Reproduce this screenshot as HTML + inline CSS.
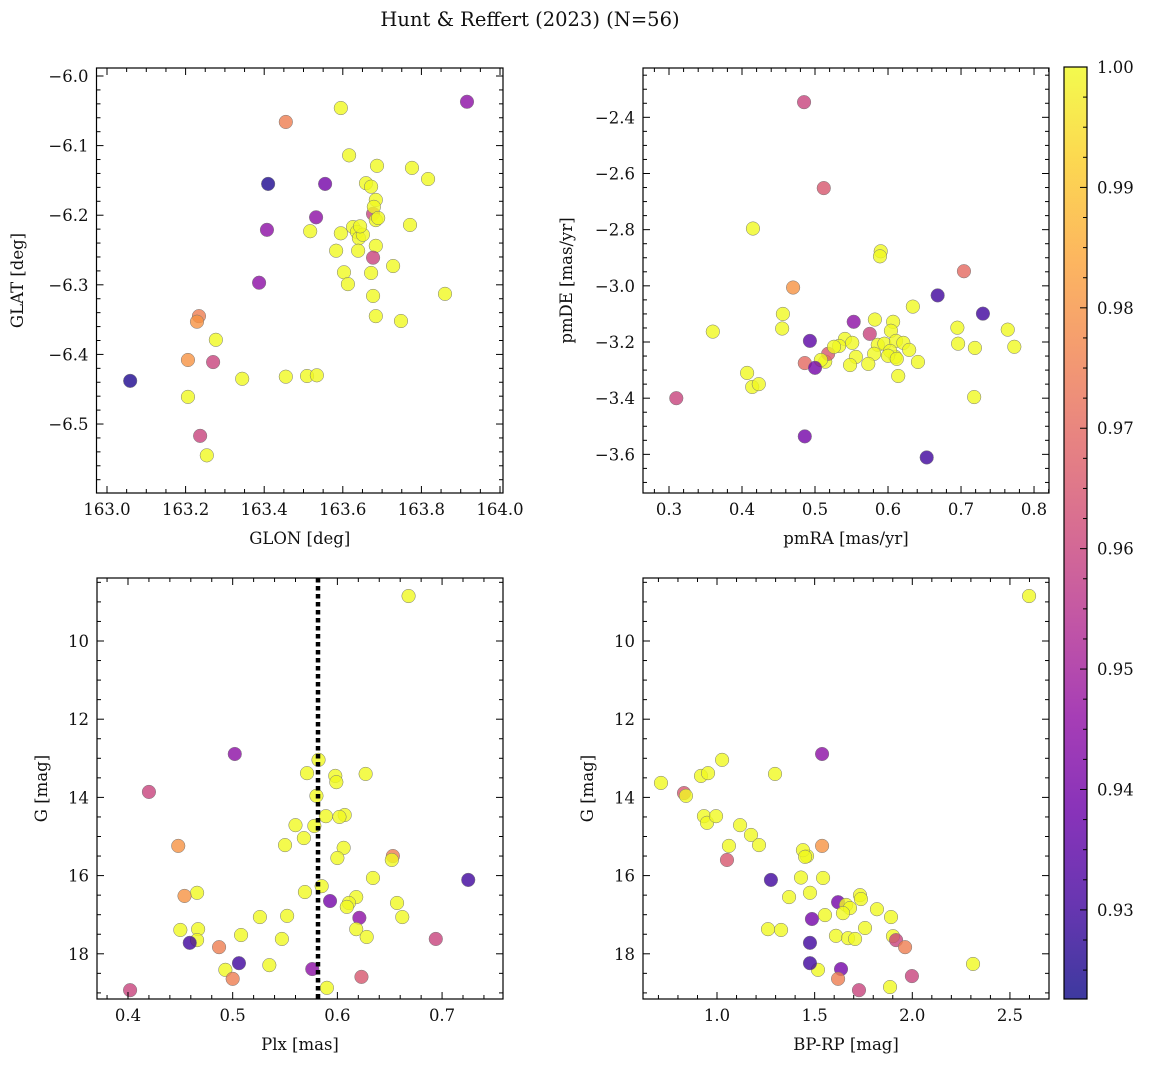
<!DOCTYPE html>
<html><head><meta charset="utf-8">
<style>
body{margin:0;background:#fff;}
svg{display:block;}
svg text{font-family:"DejaVu Serif","Liberation Serif",serif;}
</style></head>
<body>
<svg id="fig" width="1149" height="1067" viewBox="0 0 1149 1067">
<text x="530" y="26" text-anchor="middle" font-size="19.5" fill="#111" font-family="DejaVu Serif, Liberation Serif, serif">Hunt &amp; Reffert (2023) (N=56)</text>
</svg>
<script>
// ---- Panel 1: GLON vs GLAT ----
const glon1 = [163.455,163.595,163.916,163.616,163.410,163.555,163.659,163.672,163.687,163.776,163.817,163.532,163.677,163.684,163.684,163.679,163.626,163.636,163.641,163.651,163.595,163.517,163.407,163.583,163.684,163.639,163.771,163.603,163.613,163.672,163.677,163.728,163.387,163.677,163.684,163.748,163.860,163.234,163.229,163.277,163.206,163.270,163.059,163.344,163.455,163.509,163.534,163.206,163.237,163.254,163.644,163.690];
const glat1 = [-6.066,-6.046,-6.037,-6.114,-6.155,-6.155,-6.154,-6.159,-6.129,-6.132,-6.148,-6.203,-6.198,-6.178,-6.207,-6.188,-6.217,-6.224,-6.233,-6.228,-6.226,-6.223,-6.221,-6.251,-6.244,-6.251,-6.214,-6.282,-6.299,-6.283,-6.261,-6.273,-6.297,-6.316,-6.345,-6.352,-6.313,-6.345,-6.353,-6.379,-6.408,-6.411,-6.438,-6.435,-6.432,-6.431,-6.430,-6.461,-6.517,-6.545,-6.216,-6.204];
const prob1 = [0.975,1,0.945,1,0.925,0.94,1,1,1,1,1,0.945,0.96,1,1,1,1,1,1,1,1,1,0.945,1,1,1,1,1,1,1,0.96,1,0.945,1,1,1,1,0.975,0.98,1,0.98,0.96,0.925,1,1,1,1,1,0.96,1,1,1];
// ---- Panel 2: pmRA vs pmDE ----
const pmra2 = [0.485,0.512,0.415,0.590,0.589,0.470,0.704,0.668,0.730,0.634,0.456,0.360,0.553,0.582,0.607,0.604,0.575,0.541,0.551,0.493,0.514,0.533,0.586,0.455,0.595,0.611,0.621,0.629,0.610,0.603,0.581,0.556,0.518,0.526,0.486,0.508,0.500,0.548,0.573,0.600,0.612,0.641,0.695,0.696,0.719,0.764,0.773,0.614,0.407,0.414,0.423,0.310,0.718,0.486,0.653];
const pmde2 = [-2.346,-2.652,-2.796,-2.877,-2.895,-3.006,-2.948,-3.034,-3.099,-3.074,-3.100,-3.163,-3.128,-3.120,-3.128,-3.160,-3.171,-3.189,-3.203,-3.196,-3.270,-3.214,-3.210,-3.152,-3.206,-3.196,-3.203,-3.228,-3.253,-3.232,-3.242,-3.253,-3.242,-3.217,-3.275,-3.264,-3.292,-3.282,-3.278,-3.249,-3.260,-3.271,-3.149,-3.206,-3.221,-3.156,-3.217,-3.321,-3.310,-3.360,-3.350,-3.400,-3.396,-3.536,-3.611];
const prob2 = [0.96,0.965,1,1,1,0.98,0.97,0.93,0.93,1,1,1,0.945,1,1,1,0.96,1,1,0.935,1,1,1,1,1,1,1,1,1,1,1,1,0.965,1,0.97,1,0.94,1,1,1,1,1,1,1,1,1,1,1,1,1,1,0.96,1,0.94,0.93];
// ---- Panel 3: Plx vs G ----
const plx3 = [0.668,0.502,0.582,0.571,0.598,0.599,0.627,0.420,0.580,0.589,0.607,0.602,0.560,0.578,0.448,0.568,0.550,0.606,0.653,0.600,0.652,0.725,0.634,0.585,0.569,0.466,0.454,0.618,0.593,0.611,0.609,0.657,0.552,0.526,0.662,0.621,0.450,0.467,0.618,0.508,0.628,0.466,0.547,0.694,0.459,0.487,0.506,0.535,0.493,0.576,0.500,0.623,0.590,0.402];
const g3 = [8.85,12.89,13.04,13.38,13.45,13.61,13.40,13.86,13.96,14.48,14.45,14.50,14.71,14.73,15.24,15.04,15.22,15.29,15.50,15.55,15.60,16.11,16.06,16.27,16.42,16.44,16.52,16.55,16.65,16.70,16.80,16.70,17.03,17.06,17.06,17.08,17.39,17.37,17.37,17.52,17.57,17.65,17.62,17.62,17.72,17.83,18.24,18.29,18.41,18.39,18.64,18.59,18.87,18.93];
const prob3 = [1,0.945,1,1,1,1,1,0.96,1,1,1,1,1,1,0.98,1,1,1,0.975,1,1,0.93,1,1,1,1,0.98,1,0.94,1,1,1,1,1,1,0.945,1,1,1,1,1,1,1,0.96,0.93,0.975,0.93,1,1,0.945,0.975,0.965,1,0.96];
const plxLine = 0.5815;
// ---- Panel 4: BP-RP vs G ----
const bprp4 = [2.598,0.713,0.831,0.841,0.918,0.954,1.026,1.297,1.538,0.933,0.949,0.995,1.118,1.174,1.215,1.061,1.461,1.440,1.451,1.538,1.051,1.543,1.430,1.276,1.476,1.369,1.620,1.661,1.681,1.732,1.737,1.645,1.553,1.486,1.819,1.891,1.758,1.261,1.328,1.609,1.671,1.707,1.901,1.917,1.963,1.476,1.517,1.476,2.311,1.635,1.998,1.620,1.727,1.886];
const g4 = [8.85,13.63,13.89,13.96,13.45,13.38,13.04,13.40,12.89,14.48,14.65,14.48,14.71,14.96,15.22,15.24,15.50,15.35,15.52,15.24,15.60,16.06,16.05,16.11,16.44,16.55,16.68,16.75,16.83,16.50,16.60,16.96,17.01,17.11,16.86,17.06,17.34,17.37,17.39,17.54,17.60,17.62,17.55,17.65,17.83,17.72,18.41,18.24,18.26,18.39,18.57,18.64,18.93,18.85];
const prob4 = [1,1,0.965,1,1,1,1,1,0.945,1,1,1,1,1,1,1,1,1,1,0.98,0.965,1,1,0.93,1,1,0.94,1,1,1,1,1,1,0.94,1,1,1,1,1,1,1,1,1,0.96,0.975,0.93,1,0.93,1,0.94,0.96,0.975,0.96,1];
// ---- tick labels ----
const ticksGlon = [163.0,163.2,163.4,163.6,163.8,164.0];
const ticksGlat = [-6.0,-6.1,-6.2,-6.3,-6.4,-6.5];
const ticksPmra = [0.3,0.4,0.5,0.6,0.7,0.8];
const ticksPmde = [-2.4,-2.6,-2.8,-3.0,-3.2,-3.4,-3.6];
const ticksPlx = [0.4,0.5,0.6,0.7];
const ticksG = [10,12,14,16,18];
const ticksBprp = [1.0,1.5,2.0,2.5];
const ticksCbar = [0.93,0.94,0.95,0.96,0.97,0.98,0.99,1.00];
const cmin = 0.9226, cmax = 1.0;

const NS = "http://www.w3.org/2000/svg";
const FONT = '"DejaVu Serif", "Liberation Serif", serif';
const svg = document.getElementById('fig');
function mk(tag, attrs, parent){ const e=document.createElementNS(NS,tag); for(const k in attrs) e.setAttribute(k,attrs[k]); if(tag==='text') e.setAttribute('font-family',FONT); (parent||svg).appendChild(e); return e; }
const stops = ["#0d0887","#41049d","#6a00a8","#8f0da4","#b12a90","#cc4778","#e16462","#f2844b","#fca636","#fcce25","#f0f921"];
function hex(h){return [parseInt(h.slice(1,3),16),parseInt(h.slice(3,5),16),parseInt(h.slice(5,7),16)];}
function plasma(t){ t=Math.max(0,Math.min(1,t)); const f=t*10, i=Math.min(9,Math.floor(f)), r=f-i; const a=hex(stops[i]), b=hex(stops[i+1]); return `rgb(${a.map((v,k)=>Math.round(v+(b[k]-v)*r)).join(',')})`; }
function fmt(v,d){ const s=v.toFixed(d); return s.startsWith('-')?'\u2212'+s.slice(1):s; }

function panel(name, box, xr, yr, xt, yt, xd, yd, xminor, yminor, xs, ys, ps, xlabel, ylabel, ylabX){
  const g = mk('g',{});
  
  
  const X = v => box.l + (v-xr[0])/(xr[1]-xr[0])*(box.r-box.l);
  const Y = v => box.b - (v-yr[0])/(yr[1]-yr[0])*(box.b-box.t);
  const pts = mk('g',{},g);
  
  
  for(let i=0;i<xs.length;i++){
    const c = mk('circle',{cx:X(xs[i]),cy:Y(ys[i]),r:6.8,fill:plasma((ps[i]-cmin)/(cmax-cmin)),'fill-opacity':0.8,stroke:'#777','stroke-width':0.5},pts);
    
    
  }
  const tk = mk('g',{stroke:'#000','stroke-width':1},g);
  const x0=Math.ceil(xr[0]/xminor), x1=Math.floor(xr[1]/xminor);
  for(let k=x0;k<=x1;k++){ const v=k*xminor, px=X(v); const maj = xt.some(t=>Math.abs(t-v)<xminor/4); const L=maj?7:4;
    mk('line',{x1:px,x2:px,y1:box.b,y2:box.b-L},tk); mk('line',{x1:px,x2:px,y1:box.t,y2:box.t+L},tk); }
  const yl=Math.min(yr[0],yr[1]), yh=Math.max(yr[0],yr[1]);
  const y0=Math.ceil(yl/yminor), y1=Math.floor(yh/yminor);
  for(let k=y0;k<=y1;k++){ const v=k*yminor, py=Y(v); const maj = yt.some(t=>Math.abs(t-v)<yminor/4); const L=maj?7:4;
    mk('line',{y1:py,y2:py,x1:box.l,x2:box.l+L},tk); mk('line',{y1:py,y2:py,x1:box.r,x2:box.r-L},tk); }
  mk('rect',{x:box.l,y:box.t,width:box.r-box.l,height:box.b-box.t,fill:'none',stroke:'#000','stroke-width':1.2},g);
  xt.forEach(t=>{ const e=mk('text',{x:X(t),y:box.b+22,'text-anchor':'middle','font-size':16.5,fill:'#111'},g); e.textContent=fmt(t,xd);
      });
  yt.forEach(t=>{ const e=mk('text',{x:box.l-8,y:Y(t)+6,'text-anchor':'end','font-size':16.5,fill:'#111'},g); e.textContent=fmt(t,yd);
      });
  const xl=mk('text',{x:(box.l+box.r)/2,y:box.b+51,'text-anchor':'middle','font-size':16.5,fill:'#111'},g); xl.textContent=xlabel;
   
  const cy=(box.t+box.b)/2;
  const ylb=mk('text',{x:ylabX,y:cy,'text-anchor':'middle','font-size':16.5,fill:'#111',transform:`rotate(-90 ${ylabX} ${cy})`},g); ylb.textContent=ylabel;
   
  return {X,Y,g};
}

panel('glon-glat-panel',{l:96.5,r:503,t:68,b:493},[162.9733,164.0076],[-6.5991,-5.9885],ticksGlon,ticksGlat,1,1,0.05,0.02,glon1,glat1,prob1,'GLON [deg]','GLAT [deg]',23);
panel('pm-panel',{l:643,r:1049,t:68,b:493},[0.2644,0.8205],[-3.7376,-2.2244],ticksPmra,ticksPmde,1,1,0.02,0.05,pmra2,pmde2,prob2,'pmRA [mas/yr]','pmDE [mas/yr]',572);
const p3 = panel('plx-g-panel',{l:97,r:503,t:578,b:999},[0.3704,0.7582],[19.156,8.389],ticksPlx,ticksG,1,0,0.02,0.5,plx3,g3,prob3,'Plx [mas]','G [mag]',47);
const ln = mk('line',{x1:p3.X(plxLine),x2:p3.X(plxLine),y1:578,y2:999,stroke:'#000','stroke-width':4.5,'stroke-dasharray':'4.5 3.5'},p3.g);


panel('cmd-panel',{l:643,r:1049,t:578,b:999},[0.621,2.700],[19.156,8.389],ticksBprp,ticksG,1,0,0.1,0.5,bprp4,g4,prob4,'BP-RP [mag]','G [mag]',593);

const cb = mk('g',{});


const cbT=67, cbB=999, cbL=1064, cbR=1087;
const defs = mk('defs',{},svg);
const grad = mk('linearGradient',{id:'pl',x1:0,y1:1,x2:0,y2:0},defs);
for(let i=0;i<=20;i++){ mk('stop',{offset:i/20,'stop-color':plasma(i/20),'stop-opacity':0.8},grad); }
mk('rect',{x:cbL,y:cbT,width:cbR-cbL,height:cbB-cbT,fill:'url(#pl)'},cb);
const CY = v => cbB - (v-cmin)/(cmax-cmin)*(cbB-cbT);
for(let k=Math.ceil(cmin/0.0025);k<=Math.floor(cmax/0.0025+1e-6);k++){ const v=k*0.0025; const maj=ticksCbar.some(t=>Math.abs(t-v)<0.0005);
  mk('line',{x1:cbR,x2:cbR-(maj?7:4),y1:CY(v),y2:CY(v),stroke:'#000','stroke-width':1},cb); }
mk('rect',{x:cbL,y:cbT,width:cbR-cbL,height:cbB-cbT,fill:'none',stroke:'#000','stroke-width':1.2},cb);
ticksCbar.forEach(t=>{ const e=mk('text',{x:cbR+10,y:CY(t)+6,'font-size':16.5,fill:'#111'},cb); e.textContent=t.toFixed(2);
    });
</script>
</body></html>
